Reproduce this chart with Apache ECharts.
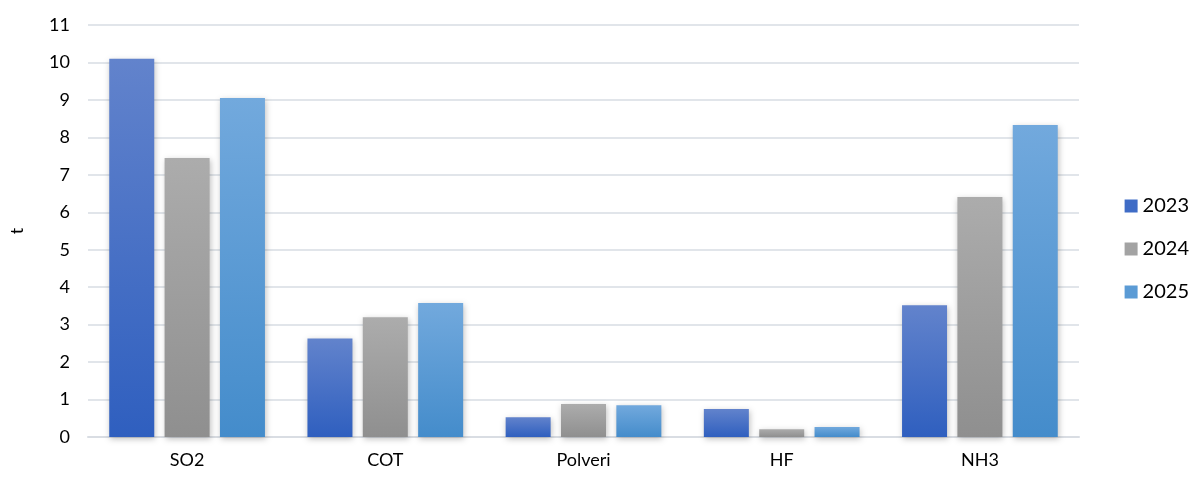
<!DOCTYPE html>
<html>
<head>
<meta charset="utf-8">
<script src="https://cdn.jsdelivr.net/npm/echarts@6/dist/echarts.min.js"></script>
<style>
  html, body { margin: 0; padding: 0; background: #fff; }
  #chart { width: 1194px; height: 477px; }
</style>
</head>
<body>
<div id="chart"></div>
<script>
// dati
const categories = ['SO2', 'COT', 'Polveri', 'HF', 'NH3'];
const years = ['2023', '2024', '2025'];
const values2023 = [10.1, 2.63, 0.53, 0.75, 3.52];
const values2024 = [7.45, 3.2, 0.88, 0.21, 6.41];
const values2025 = [9.05, 3.58, 0.85, 0.27, 8.33];
const yTicks = [0, 1, 2, 3, 4, 5, 6, 7, 8, 9, 10, 11];

const grad = (top, bottom) => new echarts.graphic.LinearGradient(0, 0, 0, 1, [
  { offset: 0, color: top },
  { offset: 1, color: bottom }
]);

const colors = [
  grad('#6283cc', '#2f5fbf'),
  grad('#acacac', '#8f8f8f'),
  grad('#72a9dd', '#448ccb')
];
const legendColors = ['#3f6cc6', '#a3a3a3', '#5b9bd5'];
const seriesData = [values2023, values2024, values2025];

const chart = echarts.init(document.getElementById('chart'));

const series = years.map((y, i) => ({
  name: y,
  type: 'bar',
  data: seriesData[i],
  barWidth: 45,
  barGap: '23%',
  itemStyle: {
    color: colors[i],
    shadowColor: 'rgba(0,0,0,0.25)',
    shadowBlur: 6,
    shadowOffsetX: 1,
    shadowOffsetY: 2
  }
}));

chart.setOption({
  animation: false,
  textStyle: { fontFamily: 'Lato, "Open Sans", sans-serif' },
  grid: { left: 83, right: 115, top: 25, bottom: 40 },
  legend: {
    orient: 'vertical',
    right: 0,
    top: 191,
    itemGap: 23,
    itemWidth: 13,
    itemHeight: 13,
    icon: 'rect',
    textStyle: { fontSize: 20, color: '#000', fontFamily: 'Lato, sans-serif' },
    data: years.map((y, i) => ({ name: y, itemStyle: { color: legendColors[i] } }))
  },
  xAxis: {
    type: 'category',
    data: categories,
    axisLine: { lineStyle: { color: '#d9dde3', width: 2 } },
    axisTick: { show: false },
    axisLabel: { fontSize: 18, color: '#000', margin: 14 }
  },
  yAxis: {
    type: 'value',
    min: yTicks[0],
    max: yTicks[yTicks.length - 1],
    interval: 1,
    name: 't',
    nameLocation: 'middle',
    nameGap: 62,
    nameRotate: 90,
    nameTextStyle: { fontSize: 18, color: '#000' },
    axisLine: { show: false },
    axisTick: { show: false },
    axisLabel: { fontSize: 18, color: '#000', margin: 18 },
    splitLine: { lineStyle: { color: '#e1e5ea', width: 2 } }
  },
  series: series
});
</script>
</body>
</html>
